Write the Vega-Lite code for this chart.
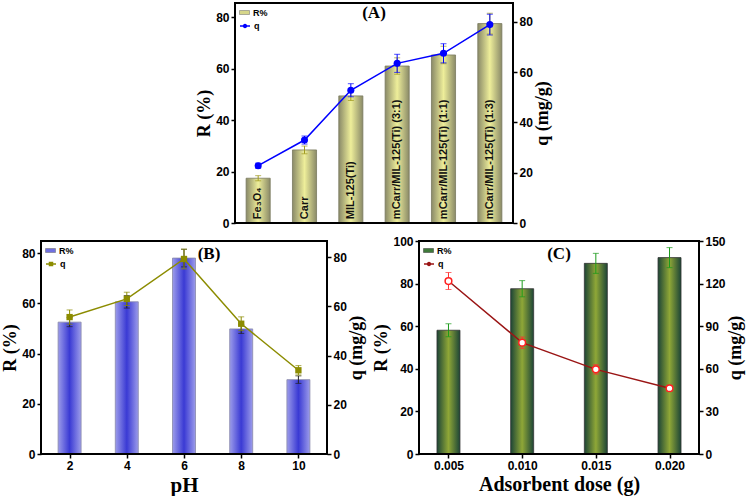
{
  "$schema": "https://vega.github.io/schema/vega-lite/v6.json",
  "background": "white",
  "padding": {"left": 0, "top": 1, "right": 0, "bottom": 0},
  "config": {
    "view": {"stroke": "black", "strokeWidth": 2},
    "axis": {"domain": false, "grid": false, "tickColor": "black", "tickWidth": 1.5, "tickSize": 4, "labelPadding": 2,
      "labelFont": "Liberation Sans", "labelFontWeight": "bold", "labelFontSize": 12, "labelColor": "black",
      "titleFont": "Liberation Serif", "titleFontWeight": "bold", "titleFontSize": 18, "titleColor": "black", "titlePadding": 2},
    "legend": {"orient": "top-left", "offset": 3, "title": null, "labelFont": "Liberation Sans", "labelFontSize": 9, "labelFontWeight": "bold",
      "labelColor": "black", "padding": 1, "rowPadding": 0, "labelOffset": 3,
      "layout": {"direction": "vertical", "margin": 0, "top-left": {"direction": "vertical", "margin": 0}}},
    "title": {"font": "Liberation Serif", "fontWeight": "bold", "fontSize": 17, "color": "black", "anchor": "middle", "frame": "group"}
  },
  "resolve": {"scale": {"color": "independent", "stroke": "independent"}},
  "spacing": 4,
  "vconcat": [
    {
      "resolve": {"scale": {"color": "independent", "stroke": "independent"}},
      "bounds": "flush",
      "spacing": 20,
      "hconcat": [
        {"width": 174, "height": 10, "view": {"stroke": null}, "data": {"values": []}, "mark": {"type": "point", "opacity": 0}},
        {
          "width": 278, "height": 220,
          "title": {"text": "(A)", "offset": -20, "frame": "group"},
          "data": {"values": [
            {"cat": "Fe₃O₄", "R": 17.4, "Rlo": 16.4, "Rhi": 18.4, "q": 22.8, "qlo": 21.8, "qhi": 23.8},
            {"cat": "Carr", "R": 28.4, "Rlo": 26.9, "Rhi": 29.9, "q": 33.0, "qlo": 31.4, "qhi": 34.6},
            {"cat": "MIL-125(Ti)", "R": 49.4, "Rlo": 47.6, "Rhi": 51.2, "q": 52.8, "qlo": 50.2, "qhi": 55.4},
            {"cat": "mCarr/MIL-125(Ti) (3:1)", "R": 61.0, "Rlo": 57.8, "Rhi": 64.2, "q": 63.5, "qlo": 59.9, "qhi": 67.1},
            {"cat": "mCarr/MIL-125(Ti) (1:1)", "R": 65.3, "Rlo": 61.9, "Rhi": 68.7, "q": 67.5, "qlo": 63.7, "qhi": 71.3},
            {"cat": "mCarr/MIL-125(Ti) (1:3)", "R": 77.5, "Rlo": 73.5, "Rhi": 81.5, "q": 78.9, "qlo": 74.8, "qhi": 83.0}
          ]},
          "layer": [
            {"layer": [
              {"mark": {"type": "bar", "stroke": "#7a7a60", "strokeWidth": 0.8,
                 "fill": {"gradient": "linear", "x1": 0, "y1": 0, "x2": 1, "y2": 0, "stops": [{"offset": 0, "color": "#8a8a68"}, {"offset": 0.5, "color": "#eeee9a"}, {"offset": 1, "color": "#8a8a68"}]}},
               "encoding": {
                 "x": {"field": "cat", "type": "nominal", "sort": null, "axis": null, "scale": {"paddingInner": 0.48, "paddingOuter": 0.24}},
                 "y": {"field": "R", "type": "quantitative", "scale": {"domain": [0, 85.5], "nice": false}, "axis": {"orient": "left", "title": "R (%)", "values": [0, 20, 40, 60, 80]}},
                 "color": {"datum": "R%", "scale": {"domain": ["R%"], "range": ["#d6d68a"]}, "legend": {"symbolType": "M-1,-0.4H1V0.4H-1Z", "symbolSize": 100, "symbolStrokeColor": "#666666", "symbolStrokeWidth": 0.5}}
               }},
              {"mark": {"type": "errorbar", "color": "#a09a20", "ticks": true, "size": 6, "thickness": 1},
               "encoding": {
                 "x": {"field": "cat", "type": "nominal", "sort": null, "title": null},
                 "y": {"field": "Rlo", "type": "quantitative", "title": "R (%)"},
                 "y2": {"field": "Rhi"}
               }},
              {"mark": {"type": "text", "angle": 270, "align": "left", "baseline": "middle", "font": "Liberation Sans", "fontWeight": "bold", "fontSize": 11, "color": "#111111"},
               "encoding": {
                 "x": {"field": "cat", "type": "nominal", "sort": null, "title": null},
                 "y": {"datum": 1.5, "title": "R (%)"},
                 "text": {"field": "cat"}
               }}
            ]},
            {"layer": [
              {"mark": {"type": "line", "strokeWidth": 1.5},
               "encoding": {
                 "x": {"field": "cat", "type": "nominal", "sort": null, "axis": null, "scale": {"paddingInner": 0.48, "paddingOuter": 0.24}},
                 "y": {"field": "q", "type": "quantitative", "scale": {"domain": [0, 87.5], "nice": false}, "axis": {"orient": "right", "title": "q (mg/g)", "titleAngle": 270, "titleBaseline": "top", "titlePadding": 1, "values": [0, 20, 40, 60, 80]}},
                 "stroke": {"datum": "q", "scale": {"domain": ["q"], "range": ["#0000ff"]}, "legend": {"symbolType": "M-1,0H1M-0.3,0A0.3,0.3 0 1,0 0.3,0A0.3,0.3 0 1,0 -0.3,0Z", "symbolSize": 100, "symbolFillColor": "#0000ff", "symbolStrokeWidth": 1.5}}
               }},
              {"mark": {"type": "errorbar", "color": "#0000ff", "ticks": true, "size": 6, "thickness": 1},
               "encoding": {
                 "x": {"field": "cat", "type": "nominal", "sort": null, "title": null},
                 "y": {"field": "qlo", "type": "quantitative", "title": "q (mg/g)"},
                 "y2": {"field": "qhi"}
               }},
              {"mark": {"type": "point", "filled": true, "size": 50, "color": "#0000ff", "opacity": 1},
               "encoding": {
                 "x": {"field": "cat", "type": "nominal", "sort": null, "title": null},
                 "y": {"field": "q", "type": "quantitative", "title": "q (mg/g)"}
               }}
            ]},
            {"layer": [
              {"mark": {"type": "rule", "color": "black", "strokeWidth": 2}, "encoding": {"y": {"datum": 0, "type": "quantitative", "scale": {"domain": [0, 1], "nice": false, "zero": false}, "axis": null}}},
              {"mark": {"type": "rule", "color": "black", "strokeWidth": 2}, "encoding": {"y": {"datum": 1, "type": "quantitative", "axis": null}}},
              {"mark": {"type": "rule", "color": "black", "strokeWidth": 2}, "encoding": {"x": {"datum": 0, "type": "quantitative", "scale": {"domain": [0, 1], "nice": false, "zero": false}, "axis": null}}},
              {"mark": {"type": "rule", "color": "black", "strokeWidth": 2}, "encoding": {"x": {"datum": 1, "type": "quantitative", "axis": null}}}
            ]}
          ],
          "resolve": {"scale": {"y": "independent", "x": "independent"}}
        }
      ]
    },
    {
      "resolve": {"scale": {"color": "independent", "stroke": "independent"}},
      "bounds": "flush",
      "spacing": 92,
      "hconcat": [
        {
          "width": 286, "height": 213,
          "title": {"text": "(B)", "offset": -23, "dx": 25, "frame": "group"},
          "data": {"values": [
            {"pH": 2, "R": 52.5, "Rlo": 50.7, "Rhi": 54.3, "q": 55.6, "qlo": 52.7, "qhi": 58.5},
            {"pH": 4, "R": 60.6, "Rlo": 58.1, "Rhi": 63.1, "q": 63.0, "qlo": 60.3, "qhi": 65.7},
            {"pH": 6, "R": 78.0, "Rlo": 74.5, "Rhi": 81.5, "q": 79.2, "qlo": 75.2, "qhi": 83.2},
            {"pH": 8, "R": 49.8, "Rlo": 48.0, "Rhi": 51.6, "q": 52.9, "qlo": 50.1, "qhi": 55.7},
            {"pH": 10, "R": 29.6, "Rlo": 28.1, "Rhi": 31.1, "q": 34.0, "qlo": 32.1, "qhi": 35.9}
          ]},
          "layer": [
            {"layer": [
              {"mark": {"type": "bar", "size": 23, "stroke": "#8888aa", "strokeWidth": 0.8,
                 "fill": {"gradient": "linear", "x1": 0, "y1": 0, "x2": 1, "y2": 0, "stops": [{"offset": 0, "color": "#9c9cea"}, {"offset": 0.5, "color": "#3a3ad4"}, {"offset": 1, "color": "#9c9cea"}]}},
               "encoding": {
                 "x": {"field": "pH", "type": "quantitative", "scale": {"domain": [1, 11], "nice": false, "zero": false, "padding": 0}, "axis": {"title": "pH", "titleFontSize": 21, "values": [2, 4, 6, 8, 10], "titlePadding": 3}},
                 "y": {"field": "R", "type": "quantitative", "scale": {"domain": [0, 84.8], "nice": false}, "axis": {"orient": "left", "title": "R (%)", "values": [0, 20, 40, 60, 80]}},
                 "color": {"datum": "R%", "scale": {"domain": ["R%"], "range": ["#7070e0"]}, "legend": {"symbolType": "M-1,-0.4H1V0.4H-1Z", "symbolSize": 100, "symbolStrokeColor": "#666666", "symbolStrokeWidth": 0.5}}
               }},
              {"mark": {"type": "errorbar", "color": "#222222", "ticks": true, "size": 6, "thickness": 1},
               "encoding": {
                 "x": {"field": "pH", "type": "quantitative", "title": "pH"},
                 "y": {"field": "Rlo", "type": "quantitative", "title": "R (%)"},
                 "y2": {"field": "Rhi"}
               }}
            ]},
            {"layer": [
              {"mark": {"type": "line", "strokeWidth": 1.5},
               "encoding": {
                 "x": {"field": "pH", "type": "quantitative", "scale": {"domain": [1, 11], "nice": false, "zero": false, "padding": 0}, "axis": null},
                 "y": {"field": "q", "type": "quantitative", "scale": {"domain": [0, 86.5], "nice": false}, "axis": {"orient": "right", "title": "q (mg/g)", "titleAngle": 270, "titleBaseline": "top", "titlePadding": 1, "values": [0, 20, 40, 60, 80]}},
                 "stroke": {"datum": "q", "scale": {"domain": ["q"], "range": ["#8c8c00"]}, "legend": {"symbolType": "M-1,0H1M-0.3,-0.3H0.3V0.3H-0.3Z", "symbolSize": 100, "symbolFillColor": "#8c8c00", "symbolStrokeWidth": 1.5}}
               }},
              {"mark": {"type": "errorbar", "color": "#8c8c00", "ticks": true, "size": 6, "thickness": 1},
               "encoding": {
                 "x": {"field": "pH", "type": "quantitative", "title": null},
                 "y": {"field": "qlo", "type": "quantitative", "title": "q (mg/g)"},
                 "y2": {"field": "qhi"}
               }},
              {"mark": {"type": "point", "shape": "square", "filled": true, "size": 40, "color": "#8c8c00", "opacity": 1},
               "encoding": {
                 "x": {"field": "pH", "type": "quantitative", "title": null},
                 "y": {"field": "q", "type": "quantitative", "title": "q (mg/g)"}
               }}
            ]},
            {"layer": [
              {"mark": {"type": "rule", "color": "black", "strokeWidth": 2}, "encoding": {"y": {"datum": 0, "type": "quantitative", "scale": {"domain": [0, 1], "nice": false, "zero": false}, "axis": null}}},
              {"mark": {"type": "rule", "color": "black", "strokeWidth": 2}, "encoding": {"y": {"datum": 1, "type": "quantitative", "axis": null}}},
              {"mark": {"type": "rule", "color": "black", "strokeWidth": 2}, "encoding": {"x": {"datum": 0, "type": "quantitative", "scale": {"domain": [0, 1], "nice": false, "zero": false}, "axis": null}}},
              {"mark": {"type": "rule", "color": "black", "strokeWidth": 2}, "encoding": {"x": {"datum": 1, "type": "quantitative", "axis": null}}}
            ]}
          ],
          "resolve": {"scale": {"y": "independent", "x": "independent"}}
        },
        {
          "width": 280, "height": 213,
          "title": {"text": "(C)", "offset": -28, "frame": "group"},
          "data": {"values": [
            {"dose": 0.005, "R": 58.1, "Rlo": 55.1, "Rhi": 61.1, "q": 121.8, "qlo": 115.8, "qhi": 127.8},
            {"dose": 0.010, "R": 77.6, "Rlo": 73.8, "Rhi": 81.4, "q": 78.4, "qlo": 74.4, "qhi": 82.4},
            {"dose": 0.015, "R": 89.5, "Rlo": 84.8, "Rhi": 94.2, "q": 59.6, "qlo": 56.3, "qhi": 62.9},
            {"dose": 0.020, "R": 92.2, "Rlo": 87.5, "Rhi": 96.9, "q": 46.3, "qlo": 44.3, "qhi": 48.3}
          ]},
          "layer": [
            {"layer": [
              {"mark": {"type": "bar", "size": 23, "stroke": "#333333", "strokeWidth": 0.8,
                 "fill": {"gradient": "linear", "x1": 0, "y1": 0, "x2": 1, "y2": 0, "stops": [{"offset": 0, "color": "#1d4536"}, {"offset": 0.5, "color": "#8fa737"}, {"offset": 1, "color": "#1d4536"}]}},
               "encoding": {
                 "x": {"field": "dose", "type": "quantitative", "scale": {"domain": [0.003, 0.022], "nice": false, "zero": false, "padding": 0}, "axis": {"title": "Adsorbent dose (g)", "titleFontSize": 20, "values": [0.005, 0.01, 0.015, 0.02], "format": ".3f", "titlePadding": 3}},
                 "y": {"field": "R", "type": "quantitative", "scale": {"domain": [0, 100], "nice": false}, "axis": {"orient": "left", "title": "R (%)", "values": [0, 20, 40, 60, 80, 100]}},
                 "color": {"datum": "R%", "scale": {"domain": ["R%"], "range": ["#3f7a3a"]}, "legend": {"symbolType": "M-1,-0.4H1V0.4H-1Z", "symbolSize": 100, "symbolStrokeColor": "#333333", "symbolStrokeWidth": 0.5}}
               }},
              {"mark": {"type": "errorbar", "color": "#1a9a1a", "ticks": true, "size": 6, "thickness": 1},
               "encoding": {
                 "x": {"field": "dose", "type": "quantitative", "title": "Adsorbent dose (g)"},
                 "y": {"field": "Rlo", "type": "quantitative", "title": "R (%)"},
                 "y2": {"field": "Rhi"}
               }}
            ]},
            {"layer": [
              {"mark": {"type": "line", "strokeWidth": 1.5},
               "encoding": {
                 "x": {"field": "dose", "type": "quantitative", "scale": {"domain": [0.003, 0.022], "nice": false, "zero": false, "padding": 0}, "axis": null},
                 "y": {"field": "q", "type": "quantitative", "scale": {"domain": [0, 150], "nice": false}, "axis": {"orient": "right", "title": "q (mg/g)", "titleAngle": 270, "titleBaseline": "top", "titlePadding": 1, "values": [0, 30, 60, 90, 120, 150]}},
                 "stroke": {"datum": "q", "scale": {"domain": ["q"], "range": ["#9a1515"]}, "legend": {"symbolType": "M-1,0H1M-0.3,0A0.3,0.3 0 1,0 0.3,0A0.3,0.3 0 1,0 -0.3,0Z", "symbolSize": 100, "symbolFillColor": "#ffffff", "symbolStrokeColor": "#ff2020", "symbolStrokeWidth": 1.5}}
               }},
              {"mark": {"type": "errorbar", "color": "#ff3030", "ticks": true, "size": 6, "thickness": 1},
               "encoding": {
                 "x": {"field": "dose", "type": "quantitative", "title": null},
                 "y": {"field": "qlo", "type": "quantitative", "title": "q (mg/g)"},
                 "y2": {"field": "qhi"}
               }},
              {"mark": {"type": "point", "shape": "circle", "filled": false, "size": 45, "fill": "#ffffff", "stroke": "#ff2020", "strokeWidth": 1.5, "opacity": 1},
               "encoding": {
                 "x": {"field": "dose", "type": "quantitative", "title": null},
                 "y": {"field": "q", "type": "quantitative", "title": "q (mg/g)"}
               }}
            ]},
            {"layer": [
              {"mark": {"type": "rule", "color": "black", "strokeWidth": 2}, "encoding": {"y": {"datum": 0, "type": "quantitative", "scale": {"domain": [0, 1], "nice": false, "zero": false}, "axis": null}}},
              {"mark": {"type": "rule", "color": "black", "strokeWidth": 2}, "encoding": {"y": {"datum": 1, "type": "quantitative", "axis": null}}},
              {"mark": {"type": "rule", "color": "black", "strokeWidth": 2}, "encoding": {"x": {"datum": 0, "type": "quantitative", "scale": {"domain": [0, 1], "nice": false, "zero": false}, "axis": null}}},
              {"mark": {"type": "rule", "color": "black", "strokeWidth": 2}, "encoding": {"x": {"datum": 1, "type": "quantitative", "axis": null}}}
            ]}
          ],
          "resolve": {"scale": {"y": "independent", "x": "independent"}}
        }
      ]
    }
  ]
}
